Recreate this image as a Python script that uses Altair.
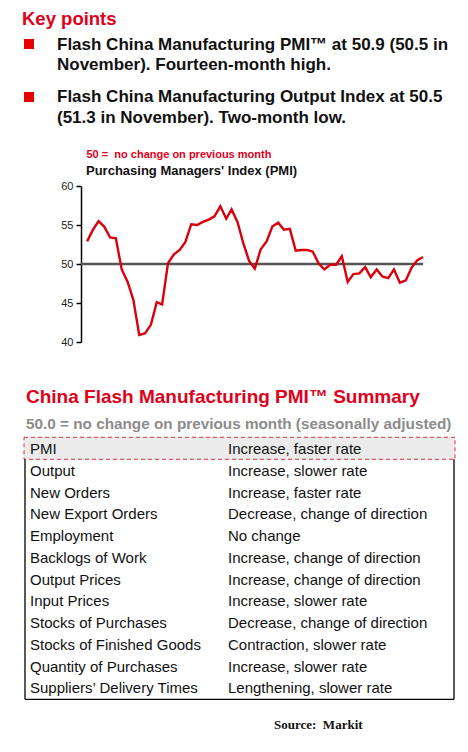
import pandas as pd
import altair as alt

RED = "#e0001b"
LINE_RED = "#d8000d"
FONT = "Liberation Sans"

# page position of the plot area's top-left corner
X0, Y0 = 81, 186

# -----------------------------
# Data
# -----------------------------
months = pd.date_range("2008-02-01", periods=59, freq="MS").strftime("%Y-%m-%d").tolist()
pmi = [
    52.9, 54.3, 55.5, 54.8, 53.4, 53.3, 49.3, 47.7, 45.4, 40.9, 41.1,
    42.2, 45.1, 44.8, 50.1, 51.2, 51.8, 52.8, 55.1, 55.0, 55.4, 55.7, 56.1,
    57.4, 55.8, 57.0, 55.4, 52.7, 50.4, 49.4, 51.9, 52.9, 54.8, 55.3, 54.4,
    54.5, 51.7, 51.8, 51.8, 51.6, 50.1, 49.3, 49.9, 49.9, 51.0, 47.7, 48.7,
    48.8, 49.6, 48.3, 49.3, 48.4, 48.2, 49.3, 47.6, 47.9, 49.5, 50.5, 50.9,
]
y_ticks = [40, 45, 50, 55, 60]
no_change = 50

bullet_1 = ["Flash China Manufacturing PMI\u2122 at 50.9 (50.5 in", "November). Fourteen-month high."]
bullet_2 = ["Flash China Manufacturing Output Index at 50.5", "(51.3 in November). Two-month low."]

items = [
    "PMI", "Output", "New Orders", "New Export Orders", "Employment",
    "Backlogs of Work", "Output Prices", "Input Prices", "Stocks of Purchases",
    "Stocks of Finished Goods", "Quantity of Purchases", "Suppliers\u2019 Delivery Times",
]
statuses = [
    "Increase, faster rate", "Increase, slower rate", "Increase, faster rate",
    "Decrease, change of direction", "No change", "Increase, change of direction",
    "Increase, change of direction", "Increase, slower rate", "Decrease, change of direction",
    "Contraction, slower rate", "Increase, slower rate", "Lengthening, slower rate",
]

ONE = pd.DataFrame({"k": [0]})


def note(text, x, y, size, color="#111111", bold=True, font=FONT, baseline="middle"):
    return (
        alt.Chart(ONE)
        .mark_text(text=text, align="left", baseline=baseline, font=font, fontSize=size,
                   fontWeight="bold" if bold else "normal", color=color)
        .encode(x=alt.value(x - X0), y=alt.value(y - Y0))
    )


def box(x1, y1, x2, y2, **style):
    return (
        alt.Chart(ONE)
        .mark_rect(**style)
        .encode(x=alt.value(x1 - X0), x2=alt.value(x2 - X0), y=alt.value(y1 - Y0), y2=alt.value(y2 - Y0))
    )


def vrule(x, y1, y2):
    return (
        alt.Chart(ONE)
        .mark_rule(color="black", strokeWidth=1.3)
        .encode(x=alt.value(x - X0), y=alt.value(y1 - Y0), y2=alt.value(y2 - Y0))
    )


def hrule(x1, x2, y):
    return (
        alt.Chart(ONE)
        .mark_rule(color="black", strokeWidth=1.3)
        .encode(x=alt.value(x1 - X0), x2=alt.value(x2 - X0), y=alt.value(y - Y0))
    )


# -----------------------------
# PMI line chart
# -----------------------------
x_scale = alt.Scale(domain=[alt.DateTime(year=2007, month=12, date=31, utc=True),
                            alt.DateTime(year=2013, month=1, date=1, utc=True)])
y_scale = alt.Scale(domain=[40, 60], nice=False, zero=False)
y_axis = alt.Axis(values=y_ticks, tickSize=5, tickWidth=1.5, tickColor="black",
                  domainColor="black", domainWidth=1.5, grid=False, labelOverlap=False,
                  labelFont=FONT, labelFontSize=11, labelColor="#222222", labelPadding=3)

pmi_df = pd.DataFrame({"month": months, "pmi": pmi})
line = (
    alt.Chart(pmi_df)
    .mark_line(color=LINE_RED, strokeWidth=2.4)
    .encode(
        x=alt.X("month:T", scale=x_scale, axis=None),
        y=alt.Y("pmi:Q", scale=y_scale, title=None, axis=y_axis),
    )
)

base_df = pd.DataFrame({"start": ["2007-12-31"], "end": [months[-1]], "pmi": [no_change]})
base_line = (
    alt.Chart(base_df)
    .mark_rule(color="#555555", strokeWidth=2.4)
    .encode(x=alt.X("start:T", scale=x_scale, axis=None), x2="end:T",
            y=alt.Y("pmi:Q", scale=y_scale, title=None, axis=y_axis))
)

pmi_chart = alt.layer(base_line, line)

# -----------------------------
# Summary table
# -----------------------------
table_df = pd.DataFrame({"row": list(range(len(items))), "item": items, "status": statuses})
row_y = alt.Y("row:Q", scale=alt.Scale(domain=[0, len(items) - 1], range=[449 - Y0, 688.3 - Y0]), axis=None)

col_item = (
    alt.Chart(table_df)
    .mark_text(align="left", baseline="middle", font=FONT, fontSize=15, color="#111111")
    .encode(x=alt.value(30 - X0), y=row_y, text="item:N")
)
col_status = (
    alt.Chart(table_df)
    .mark_text(align="left", baseline="middle", font=FONT, fontSize=15, color="#111111")
    .encode(x=alt.value(228 - X0), y=row_y, text="status:N")
)

layers = [
    note("Key points", 22, 24.5, 18.5, color=RED, baseline="alphabetic"),
    box(24, 39, 34, 49, color="#e60000"),
    note(bullet_1[0], 57, 45, 17),
    note(bullet_1[1], 57, 65, 17),
    box(24, 92, 34, 102, color="#e60000"),
    note(bullet_2[0], 57, 97, 17),
    note(bullet_2[1], 57, 118, 17),
    note("50 =\u00a0 no change on previous month", 86.5, 155, 11, color=RED),
    note("Purchasing Managers' Index (PMI)", 86, 170.5, 13),
    pmi_chart,
    note("China Flash Manufacturing PMI\u2122 Summary", 26, 397, 19, color=RED),
    note("50.0 = no change on previous month (seasonally adjusted)", 26, 424, 15.3, color="#8c8c8c"),
    box(24, 437.3, 455, 459.3, fill="#ebebeb", stroke="#d8323c", strokeDash=[4, 3], strokeWidth=1),
    vrule(25, 459.3, 699.3),
    vrule(454, 459.3, 699.3),
    hrule(25, 454, 699.3),
    col_item,
    col_status,
    note("Source:\u00a0 Markit", 274, 724.5, 13, font="Liberation Serif"),
]

chart = (
    alt.layer(*layers)
    .resolve_scale(y="independent")
    .properties(
        width=348,
        height=156,
        autosize=alt.AutoSizeParams(type="none"),
        padding={"left": X0 - 8, "top": Y0 - 8, "right": 31, "bottom": 398},
    )
    .configure_view(stroke=None)
)

chart.save("out.html", embed_options={"renderer": "svg", "actions": False})
